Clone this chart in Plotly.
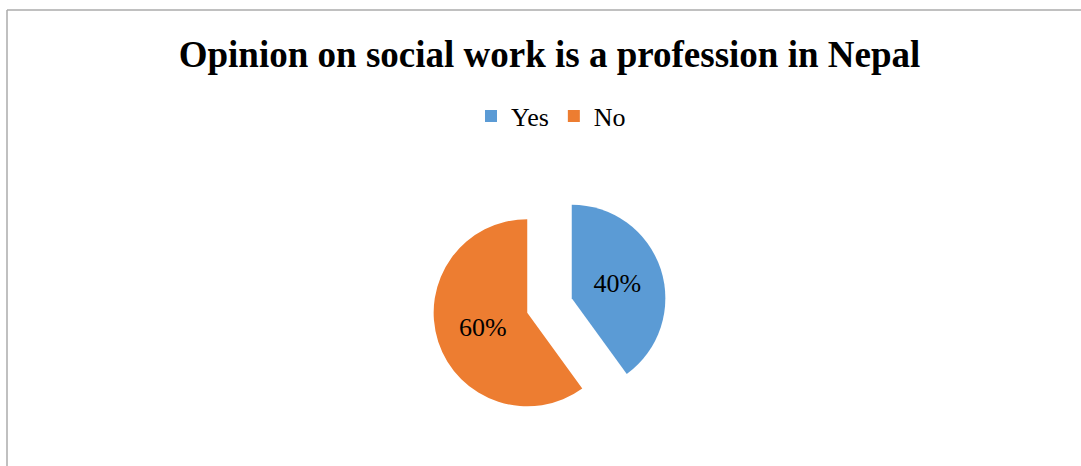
import plotly.graph_objects as go

labels = ["Yes", "No"]
values = [40, 60]
colors = ["#5B9BD5", "#ED7D31"]
title_text = "Opinion on social work is a profession in Nepal"

W, H = 1081, 466
cx, cy = 549.5, 305.5
half = 117

fig = go.Figure()
fig.add_trace(go.Pie(
    labels=labels,
    values=values,
    sort=False,
    direction="clockwise",
    rotation=0,
    pull=[0.25, 0.25],
    marker=dict(colors=colors, line=dict(width=0)),
    textinfo="percent",
    textposition="inside",
    insidetextorientation="horizontal",
    textfont=dict(family="Liberation Serif", size=26, color="black"),
    domain=dict(x=[(cx - half) / W, (cx + half) / W],
                y=[(H - cy - half) / H, (H - cy + half) / H]),
    hoverinfo="label+percent",
))

fig.update_layout(
    width=W, height=H,
    margin=dict(l=0, r=0, t=0, b=0),
    paper_bgcolor="white",
    plot_bgcolor="white",
    title=dict(text="<b>" + title_text + "</b>",
               x=cx / W, xanchor="center",
               y=1 - 54 / H, yanchor="middle",
               font=dict(family="Liberation Serif", size=37, color="black")),
    showlegend=True,
    legend=dict(orientation="h", x=551 / W, xanchor="center",
                y=1 - 116 / H, yanchor="middle",
                font=dict(family="Liberation Serif", size=26, color="black"),
                bgcolor="rgba(0,0,0,0)"),
    shapes=[
        dict(type="line", xref="paper", yref="paper",
             x0=7 / W, x1=7 / W, y0=0, y1=1 - 10 / H,
             line=dict(color="#ababab", width=1.5)),
        dict(type="line", xref="paper", yref="paper",
             x0=7 / W, x1=1, y0=1 - 10 / H, y1=1 - 10 / H,
             line=dict(color="#ababab", width=1.5)),
    ],
)

fig.write_html("out.html")
